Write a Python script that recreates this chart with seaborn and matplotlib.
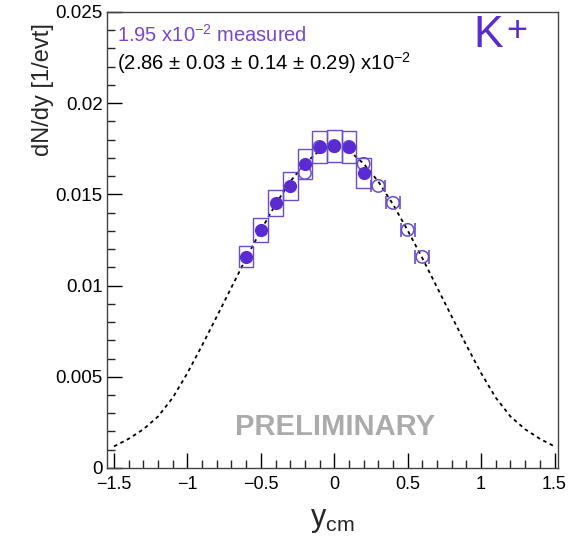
import matplotlib
matplotlib.use("Agg")
import matplotlib.pyplot as plt
import seaborn as sns
import pandas as pd
import numpy as np
from matplotlib.patches import Rectangle
from matplotlib.ticker import MultipleLocator

# ---- data ----
y_meas = [-0.6, -0.5, -0.4, -0.3, -0.2, -0.1, 0.0, 0.1, 0.2]
dndy_meas = [0.01157, 0.01305, 0.01453, 0.01546, 0.01667, 0.01760, 0.01765, 0.01760, 0.01617]
sys_meas = [0.00058, 0.00065, 0.00073, 0.00077, 0.00083, 0.00088, 0.00088, 0.00088, 0.00081]

y_refl = [0.6, 0.5, 0.4, 0.3, 0.2, 0.1, 0.0, -0.1, -0.2]
dndy_refl = [0.01157, 0.01305, 0.01453, 0.01546, 0.01667, 0.01760, 0.01765, 0.01760, 0.01617]
err_refl = [0.00038, 0.00037, 0.00036, 0.00035, 0.00035, 0.00035, 0.00035, 0.00035, 0.00035]

y_fit = [-1.5, -1.4, -1.3, -1.2, -1.1, -1.0, -0.9, -0.8, -0.7, -0.6, -0.5, -0.4, -0.3, -0.2, -0.1,
         0.0, 0.1, 0.2, 0.3, 0.4, 0.5, 0.6, 0.7, 0.8, 0.9, 1.0, 1.1, 1.2, 1.3, 1.4, 1.5]
dndy_fit = [0.00118, 0.00160, 0.00212, 0.00282, 0.00385, 0.00520, 0.00672, 0.00830, 0.00990, 0.01150,
            0.01302, 0.01445, 0.01570, 0.01668, 0.01740, 0.01768, 0.01740, 0.01668, 0.01570, 0.01445,
            0.01302, 0.01150, 0.00990, 0.00830, 0.00672, 0.00520, 0.00385, 0.00282, 0.00212, 0.00160,
            0.00118]

bin_width = 0.1
refl_half_w = 0.047

xticks = [-1.5, -1, -0.5, 0, 0.5, 1, 1.5]
xtick_labels = ["\u22121.5", "\u22121", "\u22120.5", "0", "0.5", "1", "1.5"]
yticks = [0, 0.005, 0.01, 0.015, 0.02, 0.025]
ytick_labels = ["0", "0.005", "0.01", "0.015", "0.02", "0.025"]

# ---- style ----
sns.set_theme(style="ticks")
plt.rcParams['font.family'] = ['Liberation Sans', 'DejaVu Sans']
plt.rcParams['mathtext.fontset'] = 'custom'
plt.rcParams['mathtext.rm'] = 'Liberation Sans'
plt.rcParams['mathtext.it'] = 'Liberation Sans'

purple = "#5a2bd0"
purple_line = "#6a4cc8"
purple_text = "#7a45d0"

fig = plt.figure(figsize=(5.78, 5.41), dpi=100)
ax = fig.add_axes([0.185, 0.135, 0.78, 0.843])

df_fit = pd.DataFrame({"y": y_fit, "dndy": dndy_fit})
df_meas = pd.DataFrame({"y": y_meas, "dndy": dndy_meas})
df_refl = pd.DataFrame({"y": y_refl, "dndy": dndy_refl})

sns.lineplot(data=df_fit, x="y", y="dndy", ax=ax, color="black", lw=1.3,
             linestyle=(0, (2, 2.0)), zorder=2)

# systematic boxes of measured points
for xv, yv, sv in zip(y_meas, dndy_meas, sys_meas):
    ax.add_patch(Rectangle((xv - bin_width / 2, yv - sv), bin_width, 2 * sv,
                           fill=False, edgecolor=purple_line, lw=1.0, zorder=3))

# reflected point error markers
for xv, yv, ev in zip(y_refl, dndy_refl, err_refl):
    if xv > 0.25:
        ax.vlines([xv - refl_half_w, xv + refl_half_w], yv - ev, yv + ev,
                  color=purple_line, lw=1.2, zorder=3)

sns.scatterplot(data=df_refl, x="y", y="dndy", ax=ax, marker="o", s=80,
                facecolor="none", edgecolor=purple_line, linewidth=1.1, zorder=4)
sns.scatterplot(data=df_meas, x="y", y="dndy", ax=ax, marker="o", s=90,
                color=purple, edgecolor=purple, linewidth=0, zorder=5)

ax.set_xlim(-1.548, 1.522)
ax.set_ylim(0, 0.025)
ax.set_xticks(xticks)
ax.set_xticklabels(xtick_labels)
ax.set_yticks(yticks)
ax.set_yticklabels(ytick_labels)
ax.xaxis.set_minor_locator(MultipleLocator(0.1))
ax.yaxis.set_minor_locator(MultipleLocator(0.001))
ax.tick_params(axis="both", which="major", direction="in", length=11, width=1.0,
               labelsize=13.5, colors="black", pad=3)
ax.tick_params(axis="x", which="major", pad=6, labelsize=13)
ax.tick_params(axis="both", which="minor", direction="in", length=6, width=1.0)
ax.tick_params(axis="x", which="both", top=False)
ax.tick_params(axis="y", which="both", right=False)
for sp in ax.spines.values():
    sp.set_visible(True)
    sp.set_color("#444444")
    sp.set_linewidth(1.0)

ax.set_xlabel("y$_{\\mathregular{cm}}$", fontsize=22, labelpad=4)
ax.set_ylabel("dN/dy [1/evt]", fontsize=17, labelpad=8)
ax.yaxis.set_label_coords(-0.118, 0.83)
ax.xaxis.set_label_coords(0.5, -0.082)

ax.text(0.022, 0.974, "1.95 x10$^{\\mathregular{-2}}$ measured", transform=ax.transAxes,
        color=purple_text, fontsize=14.5, va="top", ha="left")
ax.text(0.022, 0.916, "(2.86 \u00b1 0.03 \u00b1 0.14 \u00b1 0.29) x10$^{\\mathregular{-2}}$",
        transform=ax.transAxes, color="black", fontsize=14.6, va="top", ha="left")
ax.text(0.812, 0.993, "K", transform=ax.transAxes, color=purple,
        fontsize=32, va="top", ha="left")
ax.text(0.885, 0.995, "+", transform=ax.transAxes, color=purple,
        fontsize=26, va="top", ha="left")
ax.text(0.505, 0.09, "PRELIMINARY", transform=ax.transAxes, color="#ababab",
        fontsize=21, fontweight="bold", va="center", ha="center")

fig.savefig("out.png", dpi=100)
